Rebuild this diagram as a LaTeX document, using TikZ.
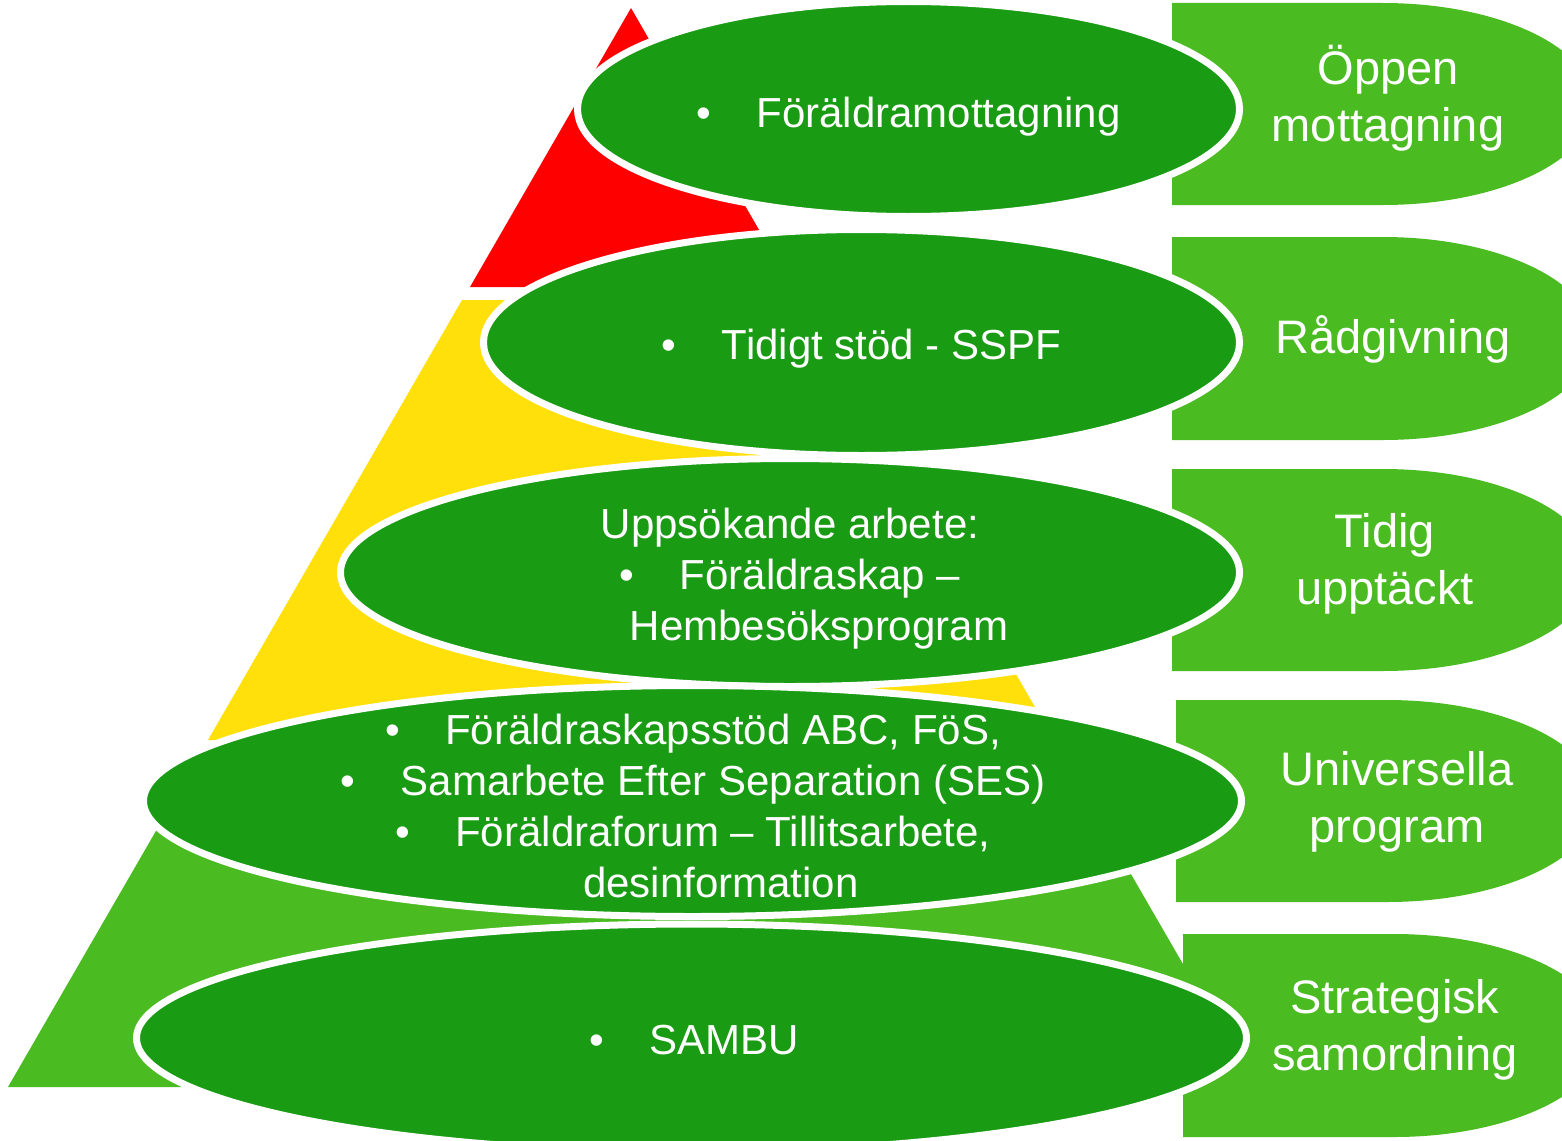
\documentclass[tikz,border=0pt]{standalone}
\usepackage{fontspec}
\setmainfont{Liberation Sans}
\usetikzlibrary{shapes.geometric}

\definecolor{layergreen}{RGB}{26,155,20}
\definecolor{tabgreen}{RGB}{75,187,34}
\definecolor{pyrred}{RGB}{255,0,0}
\definecolor{pyryellow}{RGB}{255,224,10}

\begin{document}
\begin{tikzpicture}[x=1pt,y=-1pt,
        tab/.style = {fill=tabgreen},
        layer/.style = {ellipse, fill=layergreen, draw=white, line width=7pt, inner sep=0pt},
        layertext/.style = {text=white, align=center, font=\fontsize{42}{51}\selectfont},
        tabtext/.style = {text=white, align=center, font=\fontsize{47}{57}\selectfont}]
        \clip (0,0) rectangle (1562,1140);

        % pyramid
        \fill[pyrred] (631,8) -- (792,287) -- (470,287) -- cycle;
        \fill[pyryellow] (462,300) -- (800,300) -- (1054,740) -- (208,740) -- cycle;
        \fill[tabgreen] (201,753) -- (1061,753) -- (1254,1087) -- (8,1087) -- cycle;

        % tabs on the right
        \path[tab] (1172,3) -- (1383,3) arc[start angle=-90, end angle=90, x radius=211, y radius=101] -- (1172,205) -- cycle;
        \path[tab] (1172,237) -- (1383,237) arc[start angle=-90, end angle=90, x radius=211, y radius=101.5] -- (1172,440) -- cycle;
        \path[tab] (1172,469) -- (1383,469) arc[start angle=-90, end angle=90, x radius=211, y radius=101] -- (1172,671) -- cycle;
        \path[tab] (1176,700) -- (1387,700) arc[start angle=-90, end angle=90, x radius=211, y radius=101] -- (1176,902) -- cycle;
        \path[tab] (1183,934) -- (1394,934) arc[start angle=-90, end angle=90, x radius=211, y radius=101.5] -- (1183,1137) -- cycle;

        \node[tabtext] (s1) at (1388,98) {Öppen\\mottagning};
        \node[tabtext] (s2) at (1393,339) {Rådgivning};
        \node[tabtext] (s3) at (1385,564) {Tidig\\upptäckt};
        \node[tabtext] (s4) at (1397,802) {Universella\\program};
        \node[tabtext] (s5) at (1395,1030) {Strategisk\\samordning};

        % layers
        \node[layer, minimum width=662, minimum height=215] (e1) at (908.5,109) {};
        \node[layer, minimum width=756, minimum height=226] (e2) at (861.5,342.5) {};
        \node[layer, minimum width=899, minimum height=228] (e3) at (790,572.5) {};
        \node[layer, minimum width=1098, minimum height=231] (e4) at (692.5,801) {};
        \node[layer, minimum width=1110, minimum height=228] (e5) at (691.5,1038) {};

        \node[layertext] (t1) at (908.5,117) {\makebox[60pt][l]{•}Föräldramottagning};
        \node[layertext] (t2) at (861.5,349) {\makebox[60pt][l]{•}Tidigt stöd - SSPF};
        \node[layertext] (t3) at (790,579) {Uppsökande arbete:\\\makebox[60pt][l]{•}Föräldraskap –\\\hspace*{58pt}Hembesöksprogram};
        \node[layertext] (t4) at (693,806) {\makebox[60pt][l]{•}Föräldraskapsstöd ABC, FöS,\\\makebox[60pt][l]{•}Samarbete Efter Separation (SES)\\\makebox[60pt][l]{•}Föräldraforum – Tillitsarbete,\\\hspace*{56pt}desinformation};
        \node[layertext] (t5) at (694,1040) {\makebox[60pt][l]{•}SAMBU};
    \end{tikzpicture}
\end{document}
